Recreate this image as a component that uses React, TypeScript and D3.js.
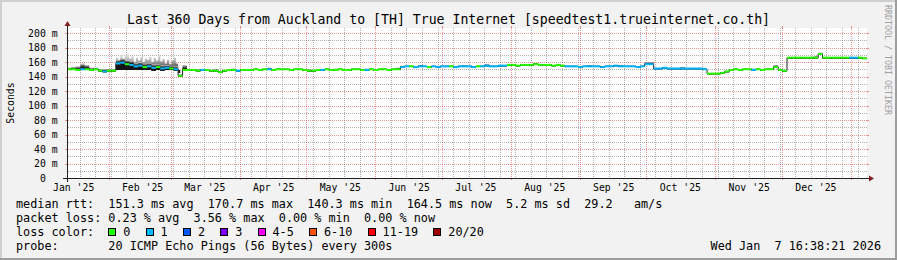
import React from 'react';
import * as d3 from 'd3';

const W = 897;
const H = 260;
const FONT = '"DejaVu Sans Mono", monospace';

const title = 'Last 360 Days from Auckland to [TH] True Internet [speedtest1.trueinternet.co.th]';
const yLabel = 'Seconds';
const sideText = 'RRDTOOL / TOBI OETIKER';

// y ticks (ms)
const yMajor = [0, 20, 40, 60, 80, 100, 120, 140, 160, 180, 200];
const yMinor = [10, 30, 50, 70, 90, 110, 130, 150, 170, 190];

// median rtt (ms), one value per 2 days starting Jan 13 2025
const median = [
  150, 150, 149, 150, 150, 149, 150,
  148, 147, 148, 148,
  158, 159, 157, 156, 154, 155, 153, 154, 152, 153, 151, 152, 151, 150,
  141, 149,
  149, 149, 148, 149, 149, 148, 148,
  146,
  148, 149, 149, 148, 149, 149, 149,
  150, 149, 150, 150, 149, 150, 150, 150, 149, 150, 150,
  149, 148, 148, 149, 149, 150, 149, 149, 150, 149, 149, 150, 150, 149, 149, 150, 149, 150, 150, 149, 150, 150,
  153, 154, 154, 153, 154, 154, 153, 154, 153, 154, 154, 154, 153, 154, 154, 154, 153, 154, 154, 155, 154, 154, 155, 155,
  156, 156, 155, 156, 156, 156, 157, 156, 156, 156, 155, 156, 155,
  154, 154, 154, 153, 154, 154, 154, 154, 153, 154, 154, 155, 154, 154, 154, 154, 153, 154,
  157, 157,
  151, 151, 152, 151, 151, 151, 151, 151, 151, 151, 151, 150,
  144, 144, 144,
  145, 147, 149,
  150, 149, 150, 150, 149, 150, 149, 150, 150,
  153,
  149, 148, 166,
  166, 166, 166, 166, 166, 166, 171, 166, 166, 166, 166, 166, 166, 166, 166, 166, 165,
];

// loss colour class per point (index into lossColors)
const loss = [
  0, 0, 0, 1, 0, 0, 0, 0, 1, 0, 0,
  1, 1, 0, 1, 1, 1, 0, 1, 1, 0, 1, 1, 0, 1,
  0, 0,
  0, 0, 0, 1, 0, 0, 0, 0, 0, 0, 0, 1, 0, 0, 0,
  0, 0, 0, 1, 0, 0, 0, 0, 0, 0, 0,
  0, 0, 0, 0, 1, 0, 0, 0, 0, 0, 0, 0, 0, 0, 1, 0, 0, 0, 0, 0, 0, 0,
  1, 1, 0, 1, 1, 1, 0, 1, 1, 1, 1, 0, 1, 1, 1, 1, 1, 0, 1, 1, 1, 1, 1, 1,
  0, 0, 0, 0, 0, 0, 0, 0, 0, 0, 0, 0, 0,
  1, 1, 1, 1, 1, 1, 1, 1, 1, 1, 1, 1, 1, 1, 1, 1, 1, 1,
  1, 1,
  1, 1, 1, 1, 1, 1, 1, 1, 1, 1, 1, 1,
  0, 0, 0, 0, 0, 0, 0, 0, 0, 0, 1, 0, 0, 0, 0, 0, 0, 0, 0,
  0, 0, 0, 0, 0, 0, 0, 0, 0, 0, 0, 0, 0, 1, 1, 0, 0,
];

// smoke spread above the median (ms)
const smokeUp = [
  2, 3, 5, 8, 6, 3, 2, 2, 3, 2, 2,
  5, 6, 6, 6, 5, 5, 5, 5, 5, 4, 5, 4, 4, 4,
  2, 7,
  1, 1, 2, 1, 1, 1, 2, 1, 1, 1, 2, 1, 1, 1, 1,
  1, 1, 1, 2, 1, 1, 1, 1, 1, 1, 1,
  1, 2, 1, 1, 1, 1, 1, 2, 1, 1, 1, 1, 1, 1, 2, 1, 1, 1, 1, 1, 1, 2,
  2, 1, 1, 1, 2, 1, 1, 1, 2, 1, 1, 1, 1, 1, 2, 1, 1, 1, 1, 2, 1, 1, 1, 1,
  1, 1, 1, 1, 1, 1, 2, 1, 1, 1, 1, 1, 1,
  1, 1, 1, 1, 1, 2, 1, 1, 1, 1, 1, 1, 2, 1, 1, 1, 1, 1,
  3, 3,
  1, 1, 1, 1, 1, 1, 2, 1, 1, 1, 1, 1,
  1, 1, 1, 1, 1, 1, 1, 1, 1, 1, 2, 1, 1, 1, 1, 3, 1, 1, 1,
  1, 1, 1, 1, 1, 2, 2, 1, 1, 1, 1, 1, 1, 1, 1, 1, 1,
];

// smoke spread below the median (ms)
const smokeDown = [
  1, 1, 1, 1, 1, 1, 1, 1, 1, 1, 1,
  9, 10, 8, 7, 5, 6, 4, 5, 4, 4, 3, 3, 2, 2,
  1, 1,
  1, 1, 1, 1, 1, 1, 1, 1, 1, 1, 1, 1, 1, 1, 1,
  1, 1, 1, 1, 1, 1, 1, 1, 1, 1, 1,
  1, 1, 1, 1, 1, 1, 1, 1, 1, 1, 1, 1, 1, 1, 1, 1, 1, 1, 1, 1, 1, 1,
  1, 1, 1, 1, 1, 1, 1, 1, 1, 1, 1, 1, 1, 1, 1, 1, 1, 1, 1, 1, 1, 1, 1, 1,
  1, 1, 1, 1, 1, 1, 1, 1, 1, 1, 1, 1, 1,
  1, 1, 1, 1, 1, 1, 1, 1, 1, 1, 1, 1, 1, 1, 1, 1, 1, 1,
  1, 1,
  1, 1, 1, 1, 1, 1, 1, 1, 1, 1, 1, 1,
  1, 1, 1, 1, 1, 1, 1, 1, 1, 1, 1, 1, 1, 1, 1, 1, 1, 1, 1,
  1, 1, 1, 1, 1, 1, 1, 1, 1, 1, 1, 1, 1, 1, 1, 1, 1,
];

// daily smoke peaks (max ping, ms) across the noisy February stretch
const spikeStartDay = 22;
const spikeMax = [
  166, 160, 170, 163, 170, 172, 165, 168, 160, 166,
  162, 167, 160, 165, 163, 167, 160, 166, 162, 170,
  161, 164, 158, 163, 157, 162, 166, 158, 145,
];
const spikeBase = 149;

const lossLabels = ['0', '1', '2', '3', '4-5', '6-10', '11-19', '20/20'];
const lossColors = ['#26ff00', '#00b8ff', '#0059ff', '#7e00ff', '#ff00fe', '#ff5500', '#ff0000', '#a10000'];

const legendRtt = 'median rtt:  151.3 ms avg  170.7 ms max  140.3 ms min  164.5 ms now  5.2 ms sd  29.2   am/s';
const legendLoss = 'packet loss: 0.23 % avg  3.56 % max  0.00 % min  0.00 % now';
const legendColorTitle = 'loss color:';
const legendProbe = 'probe:       20 ICMP Echo Pings (56 Bytes) every 300s';
const stamp = 'Wed Jan  7 16:38:21 2026';

const start = new Date(Date.UTC(2025, 0, 13, 6, 0));
const end = d3.utcDay.offset(start, 360);
const STEP_DAYS = 2;

const X0 = 67, X1 = 867, Y0 = 178, Y1 = 28;
const CW = 7.1; // legend char width
const LF = 11.8; // legend font size

const GRID = 'rgba(143,143,143,0.7)';
const MGRID = 'rgba(222,79,79,0.6)';

export default function App() {
  const x = d3.scaleUtc().domain([start, end]).range([X0, X1]);
  const y = d3.scaleLinear().domain([0, 206.9]).range([Y0, Y1]);

  const pts = median.map((m, i) => ({
    t: d3.utcDay.offset(start, i * STEP_DAYS),
    m,
    up: smokeUp[i],
    dn: smokeDown[i],
    l: loss[i],
  }));
  const ext = [...pts, { ...pts[pts.length - 1], t: end }];

  // smoke bands: [upper fraction, lower fraction, colour]
  const bands: [number, number, string][] = [
    [1, 1, '#b4b4b4'],
    [0.75, 1, '#6a6a6a'],
    [0.5, 1, '#2e2e2e'],
    [0.3, 1, '#141414'],
  ];
  const smokePaths = bands.map(([fu, fd]) =>
    d3
      .area<any>()
      .x((d) => x(d.t))
      .y0((d) => y(d.m - d.dn * fd))
      .y1((d) => y(d.m + d.up * fu))
      .curve(d3.curveStepAfter)(ext) as string
  );
  const medLine = d3
    .line<any>()
    .x((d) => x(d.t))
    .y((d) => y(d.m))
    .curve(d3.curveStepAfter)(ext) as string;

  const spikes = spikeMax.map((v, i) => ({ t: d3.utcDay.offset(start, spikeStartDay + i), v }));
  const spikePath = d3
    .area<any>()
    .x((d) => x(d.t))
    .y0(() => y(spikeBase))
    .y1((d) => y(d.v))
    .curve(d3.curveStepAfter)([...spikes, { ...spikes[spikes.length - 1], t: d3.utcDay.offset(start, spikeStartDay + spikes.length) }]) as string;

  const months = d3.utcMonth.range(d3.utcMonth.ceil(start), end);
  const monthSet = new Set(months.map((d) => Math.round(x(d))));
  const weeks = d3.utcSunday.range(start, end).filter((d) => !monthSet.has(Math.round(x(d))));
  const monthLabels = d3.utcMonth
    .range(d3.utcMonth.floor(start), end)
    .map((m) => d3.utcHour.offset(m, 15 * 24 + 6))
    .filter((t) => t >= start && t <= end);
  const fmtMon = d3.utcFormat('%b');
  const fmtYr = d3.utcFormat('%y');

  // loss legend positions
  let cx = 16 + 13 * CW;
  const lossLegend = lossLabels.map((lab, i) => {
    const item = { x: cx, lab, color: lossColors[i] };
    cx += 16 + lab.length * CW + 2 * CW;
    return item;
  });

  const rx = (v: number) => Math.round(v);

  return (
    <svg width={W} height={H} style={{ display: 'block', position: 'absolute', left: 0, top: 0 }} fontFamily={FONT}>
      <defs>
        <pattern id="vg" patternUnits="userSpaceOnUse" x={0} y={0} width={1} height={2}>
          <rect x={0} y={0} width={1} height={1} fill={GRID} />
        </pattern>
        <pattern id="vr" patternUnits="userSpaceOnUse" x={0} y={0} width={1} height={2}>
          <rect x={0} y={0} width={1} height={1} fill={MGRID} />
        </pattern>
        <pattern id="hg" patternUnits="userSpaceOnUse" x={0} y={0} width={2} height={1}>
          <rect x={0} y={0} width={1} height={1} fill={GRID} />
        </pattern>
        <pattern id="hr" patternUnits="userSpaceOnUse" x={0} y={0} width={2} height={1}>
          <rect x={0} y={0} width={1} height={1} fill={MGRID} />
        </pattern>
        <linearGradient id="spk" gradientUnits="userSpaceOnUse" x1={0} x2={0} y1={y(172)} y2={y(spikeBase)}>
          <stop offset="0" stopColor="#eeeeee" />
          <stop offset="0.45" stopColor="#b0b0b0" />
          <stop offset="1" stopColor="#202020" />
        </linearGradient>
      </defs>
      <rect x={0} y={0} width={W} height={H} fill="#f2f2f2" />
      {/* 3D frame */}
      <rect x={0} y={0} width={W} height={2} fill="#cfcfcf" />
      <rect x={0} y={0} width={2} height={H} fill="#cfcfcf" />
      <rect x={0} y={H - 2} width={W} height={2} fill="#9e9e9e" />
      <rect x={W - 2} y={0} width={2} height={H} fill="#9e9e9e" />

      {/* canvas */}
      <rect x={X0} y={Y1} width={X1 - X0} height={Y0 - Y1} fill="#ffffff" />

      {/* minor grid */}
      {yMinor.map((v) => (
        <rect key={'hm' + v} x={X0} y={rx(y(v))} width={X1 - X0} height={1} fill="url(#hg)" />
      ))}
      {weeks.map((d) => (
        <rect key={'vm' + d.getTime()} x={rx(x(d))} y={Y1} width={1} height={Y0 - Y1} fill="url(#vg)" />
      ))}
      {/* major grid */}
      {yMajor.map((v) => (
        <g key={'hM' + v}>
          <rect x={X0} y={rx(y(v))} width={X1 - X0} height={1} fill="url(#hr)" />
          <rect x={X0 - 2} y={rx(y(v))} width={2} height={1} fill={MGRID} />
          <rect x={X1} y={rx(y(v))} width={2} height={1} fill={MGRID} />
        </g>
      ))}
      {months.map((d) => (
        <g key={'vM' + d.getTime()}>
          <rect x={rx(x(d))} y={Y1} width={1} height={Y0 - Y1} fill="url(#vr)" />
          <rect x={rx(x(d))} y={Y0} width={1} height={2} fill={MGRID} />
          <rect x={rx(x(d))} y={Y1 - 2} width={1} height={2} fill={MGRID} />
        </g>
      ))}

      {/* smoke */}
      <path d={spikePath} fill="url(#spk)" />
      {smokePaths.map((p, i) => (
        <path key={'s' + i} d={p} fill={bands[i][2]} />
      ))}
      {/* median line */}
      <path d={medLine} fill="none" stroke="#202020" strokeWidth={1} />
      {pts.map((d, i) => {
        const xa = x(d.t);
        const xb = x(ext[i + 1].t);
        return (
          <rect key={'m' + i} x={xa} y={y(d.m) - 1} width={xb - xa} height={2} fill={lossColors[d.l]} />
        );
      })}

      {/* axes */}
      <line x1={X0 - 4} x2={X1 + 4} y1={Y0 + 0.5} y2={Y0 + 0.5} stroke="#1f1f1f" strokeWidth={1} />
      <line x1={X0 + 0.5} x2={X0 + 0.5} y1={Y0 + 4} y2={Y1 - 4} stroke="#1f1f1f" strokeWidth={1} />
      <path d={`M${X1 + 2},${Y0 - 3 + 0.5} L${X1 + 2},${Y0 + 3 + 0.5} L${X1 + 7},${Y0 + 0.5} Z`} fill="#801f1f" />
      <path d={`M${X0 - 3 + 0.5},${Y1 - 2} L${X0 + 3 + 0.5},${Y1 - 2} L${X0 + 0.5},${Y1 - 7} Z`} fill="#801f1f" />

      {/* y labels */}
      <g fontSize={9.8} fill="#000">
        {yMajor.map((v) => (
          <g key={'yl' + v}>
            <text x={45.8} y={y(v) + 3.6} textAnchor="end">{String(v)}</text>
            {v !== 0 && <text x={51.7} y={y(v) + 3.6}>m</text>}
          </g>
        ))}
        {monthLabels.map((t) => (
          <text key={'xl' + t.getTime()} x={x(t)} y={190.6} textAnchor="middle">
            {`${fmtMon(t)} '${fmtYr(t)}`}
          </text>
        ))}
        <text transform={`translate(14,${(Y0 + Y1) / 2}) rotate(-90)`} textAnchor="middle">{yLabel}</text>
      </g>

      {/* title */}
      <text x={448.5} y={23.7} fontSize={13.2} textAnchor="middle" fill="#000">{title}</text>

      {/* side text */}
      <text transform="translate(884.5,5) rotate(90)" fontSize={8.3} fill="#a0a0a0">{sideText}</text>

      {/* legend */}
      <g fontSize={LF} fill="#000" style={{ whiteSpace: 'pre' }}>
        <text x={16} y={208} xmlSpace="preserve">{legendRtt}</text>
        <text x={16} y={222} xmlSpace="preserve">{legendLoss}</text>
        <text x={16} y={236} xmlSpace="preserve">{legendColorTitle}</text>
        {lossLegend.map((it) => (
          <g key={'lg' + it.lab}>
            <rect x={Math.round(it.x) + 0.5} y={228.5} width={7} height={7} fill={it.color} stroke="#000" strokeWidth={1} />
            <text x={it.x + 15} y={236}>{it.lab}</text>
          </g>
        ))}
        <text x={16} y={250} xmlSpace="preserve">{legendProbe}</text>
        <text x={881} y={250} textAnchor="end" xmlSpace="preserve">{stamp}</text>
      </g>
    </svg>
  );
}
